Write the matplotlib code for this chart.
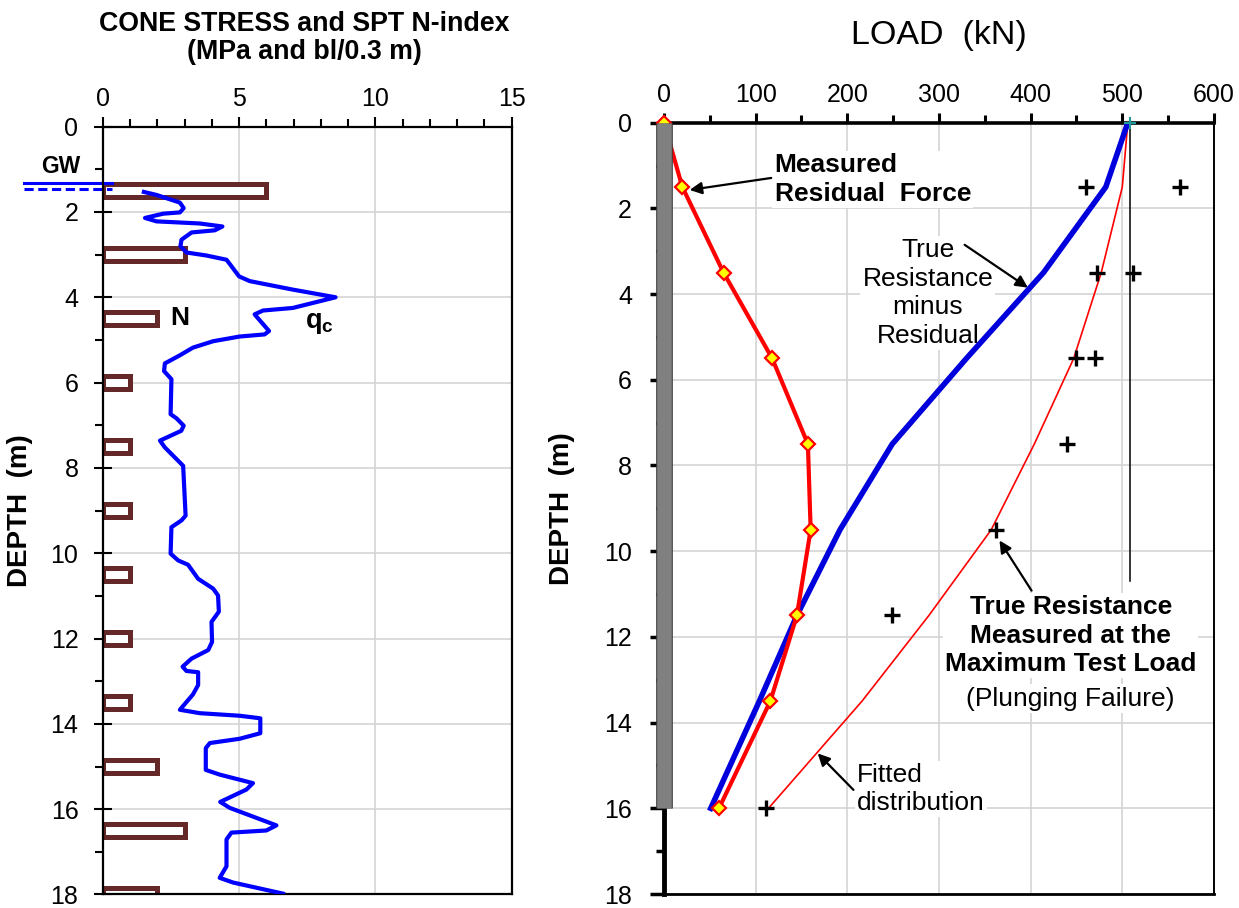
import matplotlib.pyplot as plt
import matplotlib.patheffects as pe
from matplotlib.ticker import MultipleLocator

plt.rcParams["font.family"] = ["Liberation Sans", "DejaVu Sans"]
plt.rcParams["mathtext.fontset"] = "custom"
plt.rcParams["mathtext.bf"] = "Liberation Sans:bold"
plt.rcParams["mathtext.rm"] = "Liberation Sans"

# ---- left panel: cone stress (CPT) and SPT N-index ----
qc_depth = [1.53, 1.60, 1.78, 1.91, 2.01, 2.04, 2.14, 2.22, 2.27, 2.34, 2.43, 2.48, 2.65, 2.80,
            2.95, 3.02, 3.12, 3.27, 3.51, 3.62, 3.82, 4.00, 4.25, 4.31, 4.40, 4.79, 4.87, 4.92,
            5.03, 5.18, 5.36, 5.55, 5.73, 5.92, 6.74, 6.84, 7.01, 7.13, 7.36, 7.52, 7.95, 8.73,
            9.12, 9.23, 9.39, 10.01, 10.17, 10.27, 10.60, 10.83, 10.99, 11.37, 11.61, 12.08,
            12.27, 12.47, 12.66, 12.76, 12.79, 13.09, 13.31, 13.67, 13.75, 13.81, 13.87, 14.22,
            14.35, 14.45, 14.57, 15.08, 15.19, 15.39, 15.54, 15.83, 15.97, 16.38, 16.50, 16.55,
            16.71, 17.34, 17.61, 17.72, 17.98]
qc_mpa = [1.51, 1.97, 2.83, 2.97, 2.83, 2.22, 1.55, 1.97, 3.56, 4.39, 4.11, 3.26, 2.89, 2.85,
          3.07, 3.80, 4.54, 4.72, 5.00, 5.39, 6.97, 8.54, 6.97, 5.88, 5.57, 6.10, 5.94, 5.02,
          4.05, 3.31, 2.83, 2.28, 2.25, 2.52, 2.49, 2.71, 2.97, 2.88, 2.10, 2.28, 2.95, 3.01,
          3.04, 2.89, 2.52, 2.49, 2.77, 3.13, 3.50, 4.05, 4.23, 4.26, 3.99, 4.01, 3.87, 3.26,
          2.93, 3.07, 3.50, 3.50, 3.31, 2.83, 3.56, 5.02, 5.78, 5.78, 5.02, 3.93, 3.78, 3.78,
          4.29, 5.51, 5.27, 4.31, 4.66, 6.37, 6.00, 4.72, 4.54, 4.54, 4.29, 4.78, 6.61]

spt_depth = [1.5, 3.0, 4.5, 6.0, 7.5, 9.0, 10.5, 12.0, 13.5, 15.0, 16.5, 18.0]
spt_n = [6, 3, 2, 1, 1, 1, 1, 1, 1, 2, 3, 2]

gw_depth = [1.33, 1.46]

# ---- right panel: load distribution ----
gage_depth = [0, 1.5, 3.5, 5.5, 7.5, 9.5, 11.5, 13.5, 16]
residual = [0, 20, 65, 118, 157, 160, 145, 116, 60]
true_minus_res = [506, 482, 414, 330, 249, 192, 145, 104, 51]
fitted = [506, 500, 477, 447, 404, 357, 289, 216, 114]

true_depth = [1.5, 1.5, 3.5, 3.5, 5.5, 5.5, 7.5, 9.5, 11.5, 16]
true_load = [460, 563, 472, 512, 450, 470, 440, 362, 249, 111]

max_load = 508
max_line_end = 10.7
pile_toe = 16

brown = "#642828"
grid_gray = "#d4d4d4"


def style_axes(ax, xmax, xmajor, xminor, spine_w):
    ax.set_ylim(18, 0)
    ax.set_xlim(0, xmax)
    ax.xaxis.tick_top()
    ax.xaxis.set_major_locator(MultipleLocator(xmajor))
    ax.xaxis.set_minor_locator(MultipleLocator(xminor))
    ax.yaxis.set_major_locator(MultipleLocator(2))
    ax.yaxis.set_minor_locator(MultipleLocator(1))
    ax.set_axisbelow(True)
    ax.grid(True, which="major", color=grid_gray, linewidth=1.2)
    ax.tick_params(axis="x", which="major", direction="out", length=7, width=1.5,
                   labelsize=18, pad=4)
    ax.tick_params(axis="x", which="minor", direction="out", length=6, width=1.5)
    ax.tick_params(axis="y", which="minor", direction="out", length=6, width=1.5)
    for s in ax.spines.values():
        s.set_linewidth(spine_w)
        s.set_color("black")


fig = plt.figure(figsize=(12.39, 9.08), dpi=100)

# ---------------- left panel ----------------
ax1 = fig.add_axes([0.0829, 0.0149, 0.3301, 0.8456])
style_axes(ax1, 15, 5, 1, 1.6)
ax1.tick_params(axis="y", which="major", direction="inout", length=13, width=1.5,
                labelsize=18, pad=11)

ax1.barh(spt_depth, spt_n, height=0.3, left=0, color="white", edgecolor=brown,
         linewidth=3.6, zorder=2)
ax1.plot(qc_mpa, qc_depth, color="#0000ff", linewidth=3, solid_joinstyle="round", zorder=3)

ax1.plot([-2.9, 0.35], [gw_depth[0]] * 2, color="#0000ff", linewidth=2.2, clip_on=False)
ax1.plot([-2.9, 0.35], [gw_depth[1]] * 2, color="#0000ff", linewidth=2.2, linestyle=(0, (3, 1.5)),
         clip_on=False)
ax1.text(-1.55, 0.93, "GW", fontsize=16.5, fontweight="bold", ha="center", va="center",
         clip_on=False)
ax1.text(2.83, 4.48, "N", fontsize=19, fontweight="bold", ha="center", va="center")
ax1.text(7.95, 4.6, r"$\mathbf{q}_\mathbf{c}$", fontsize=19.5, ha="center", va="center")

ax1.set_ylabel("DEPTH  (m)", fontsize=20, fontweight="bold")
ax1.yaxis.set_label_coords(-0.17, 0.5)
fig.text(304 / 1239, 1 - 38 / 908, "CONE STRESS and SPT N-index\n(MPa and bl/0.3 m)",
         fontsize=19.3, fontweight="bold", ha="center", va="center", linespacing=1.12)

# ---------------- right panel ----------------
ax2 = fig.add_axes([0.5359, 0.0154, 0.4439, 0.8495])
style_axes(ax2, 600, 100, 50, 1.6)
ax2.spines["top"].set_linewidth(2.6)
ax2.spines["left"].set_linewidth(3.5)
ax2.spines["left"].set_bounds(pile_toe, 18)
ax2.spines["bottom"].set_linewidth(2.0)
ax2.spines["right"].set_linewidth(1.4)
ax2.tick_params(axis="y", which="major", direction="out", length=10, width=2.5,
                labelsize=18, pad=13)
ax2.tick_params(axis="y", which="minor", width=2.5)
ax2.tick_params(axis="x", which="both", width=2.2)

# pile shaft, drawn over the start of the residual curve
ax2.plot([0, 0], [0, pile_toe], color="#808080", linewidth=10.5, solid_capstyle="butt",
         clip_on=False, zorder=5.5,
         path_effects=[pe.Stroke(linewidth=12.0, foreground="#3a3a3a"), pe.Normal()])

ax2.plot([max_load, max_load], [0, max_line_end], color="black", linewidth=1.1, zorder=2)
ax2.plot(fitted, gage_depth, color="#ff0000", linewidth=1.2, zorder=3)
ax2.plot(true_minus_res, gage_depth, color="#0000dd", linewidth=4, zorder=4)
ax2.plot(residual, gage_depth, color="#ff0000", linewidth=3, marker="D", markersize=7,
         markerfacecolor="#ffff00", markeredgecolor="#ff0000", markeredgewidth=1.6,
         zorder=5, clip_on=False)
ax2.plot(true_load, true_depth, linestyle="none", marker="+", markersize=11,
         markeredgewidth=2.4, color="black", zorder=6)
ax2.plot([max_load], [0], linestyle="none", marker="+", markersize=8, markeredgewidth=1.5,
         color="#1f9a9a", zorder=6, clip_on=False)

box = dict(facecolor="white", edgecolor="none", pad=1.5)
arrow = dict(arrowstyle="-|>", color="black", lw=1.6, mutation_scale=18, shrinkA=0, shrinkB=0)

ax2.text(120.6, 1.33, "Measured\nResidual  Force", fontsize=19, fontweight="bold",
         ha="left", va="center", bbox=box, zorder=1.5, linespacing=1.25)
ax2.annotate("", xy=(28, 1.57), xytext=(117, 1.29), arrowprops=arrow, zorder=6)

ax2.text(288, 3.97, "True\nResistance\nminus\nResidual", fontsize=19, ha="center",
         va="center", bbox=box, zorder=1.5, linespacing=1.24)
ax2.annotate("", xy=(397, 3.85), xytext=(328, 2.85), arrowprops=arrow, zorder=6)

ax2.text(443.7, 11.97, "True Resistance\nMeasured at the\nMaximum Test Load", fontsize=19,
         fontweight="bold", ha="center", va="center", bbox=box, zorder=1.5, linespacing=1.24)
ax2.text(443.7, 13.44, "(Plunging Failure)", fontsize=19, ha="center", va="center",
         bbox=box, zorder=1.5)
ax2.annotate("", xy=(366, 9.75), xytext=(401, 10.92), arrowprops=arrow, zorder=6)

ax2.text(210.6, 15.55, "Fitted\ndistribution", fontsize=19, ha="left", va="center",
         bbox=box, zorder=1.5, linespacing=1.24)
ax2.annotate("", xy=(167.7, 14.72), xytext=(206.7, 15.57), arrowprops=arrow, zorder=6)

ax2.set_ylabel("DEPTH  (m)", fontsize=20, fontweight="bold")
ax2.yaxis.set_label_coords(-0.162, 0.5)
ax2.set_title("LOAD  (kN)", fontsize=24.5, pad=57)

fig.savefig("out.png", dpi=100)
